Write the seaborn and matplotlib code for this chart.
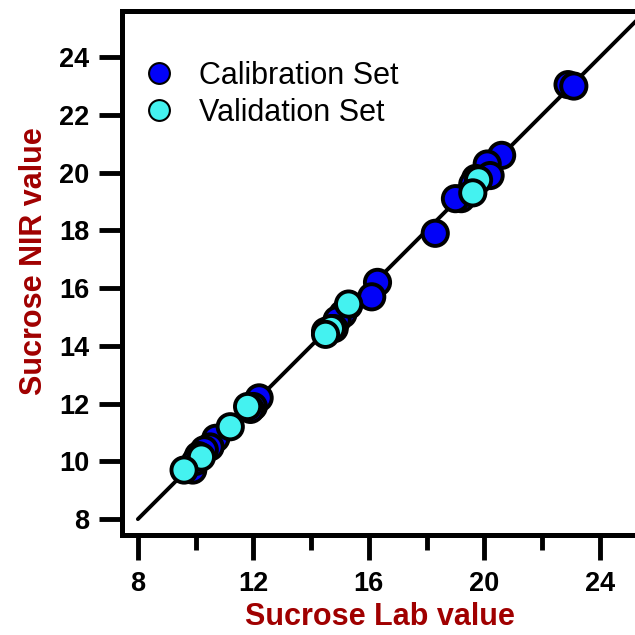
import matplotlib
matplotlib.use("Agg")
import matplotlib.pyplot as plt
import seaborn as sns
import pandas as pd
from matplotlib.ticker import MultipleLocator
from matplotlib.lines import Line2D

sns.set_style("white")
plt.rcParams['font.family'] = ['Liberation Sans', 'DejaVu Sans']

cal_lab = [22.9, 23.1, 20.6, 20.1, 20.2, 19.7, 19.6, 19.2, 19.0, 18.3, 16.3, 16.1,
           15.3, 15.1, 14.9, 14.5, 14.8, 12.2, 12.0, 11.9, 10.7, 10.5, 10.3, 10.1, 9.9, 10.0]
cal_nir = [23.05, 23.0, 20.6, 20.3, 19.9, 19.8, 19.6, 19.1, 19.1, 17.9, 16.2, 15.7,
           15.4, 15.1, 14.9, 14.5, 14.6, 12.2, 11.9, 11.8, 10.8, 10.5, 10.4, 10.2, 9.7, 10.0]
val_lab = [19.8, 19.6, 15.3, 14.7, 14.5, 11.8, 11.2, 10.2, 9.6]
val_nir = [19.75, 19.3, 15.45, 14.6, 14.4, 11.9, 11.2, 10.15, 9.7]

df = pd.DataFrame({
    "lab": cal_lab + val_lab,
    "nir": cal_nir + val_nir,
    "set": ["Calibration Set"] * len(cal_lab) + ["Validation Set"] * len(val_lab),
})
palette = {"Calibration Set": "#0202F8", "Validation Set": "#44F2F0"}

fig = plt.figure(figsize=(6.35, 6.35), dpi=100)
ax = fig.add_axes([122 / 635, 100 / 635, 524 / 635, 524 / 635])

ax.plot([8, 25.6], [8, 25.6], color="black", lw=2.8, zorder=1)
sns.scatterplot(data=df, x="lab", y="nir", hue="set", palette=palette, s=330,
                edgecolor="black", linewidth=2.8, ax=ax, legend=False, zorder=3)

ax.set_xlim(7.45, 25.6)
ax.set_ylim(7.45, 25.6)
ax.xaxis.set_major_locator(MultipleLocator(4))
ax.xaxis.set_minor_locator(MultipleLocator(2))
ax.yaxis.set_major_locator(MultipleLocator(2))
ax.tick_params(axis="x", which="major", direction="out", length=18, width=3.5,
               labelsize=19.5, pad=8, bottom=True, labelcolor="black", color="black")
ax.tick_params(axis="x", which="minor", direction="out", length=11, width=3.5,
               bottom=True, color="black")
ax.tick_params(axis="y", which="major", direction="out", length=16.5, width=3.5,
               labelsize=19.5, pad=7, left=True, labelcolor="black", color="black")
for lab in ax.get_xticklabels() + ax.get_yticklabels():
    lab.set_fontweight("bold")
for s in ax.spines.values():
    s.set_linewidth(3.6)
    s.set_color("black")

ax.set_xlabel("Sucrose Lab value", fontsize=22, fontweight="bold", color="#A00000")
ax.set_ylabel("Sucrose NIR value", fontsize=22, fontweight="bold", color="#A00000")
ax.xaxis.set_label_coords(0.492, -0.128)
ax.yaxis.set_label_coords(-0.140, 0.523)

handles = [Line2D([], [], marker="o", ls="", markersize=15, markerfacecolor=palette[k],
                  markeredgecolor="black", markeredgewidth=1.5) for k in palette]
leg = ax.legend(handles, list(palette.keys()), loc="upper left",
                bbox_to_anchor=(-0.011, 0.928), frameon=False, fontsize=22,
                handletextpad=0.32, labelspacing=0.22, borderaxespad=0.0)
for t in leg.get_texts():
    t.set_color("black")

fig.savefig("out.png", dpi=100)
